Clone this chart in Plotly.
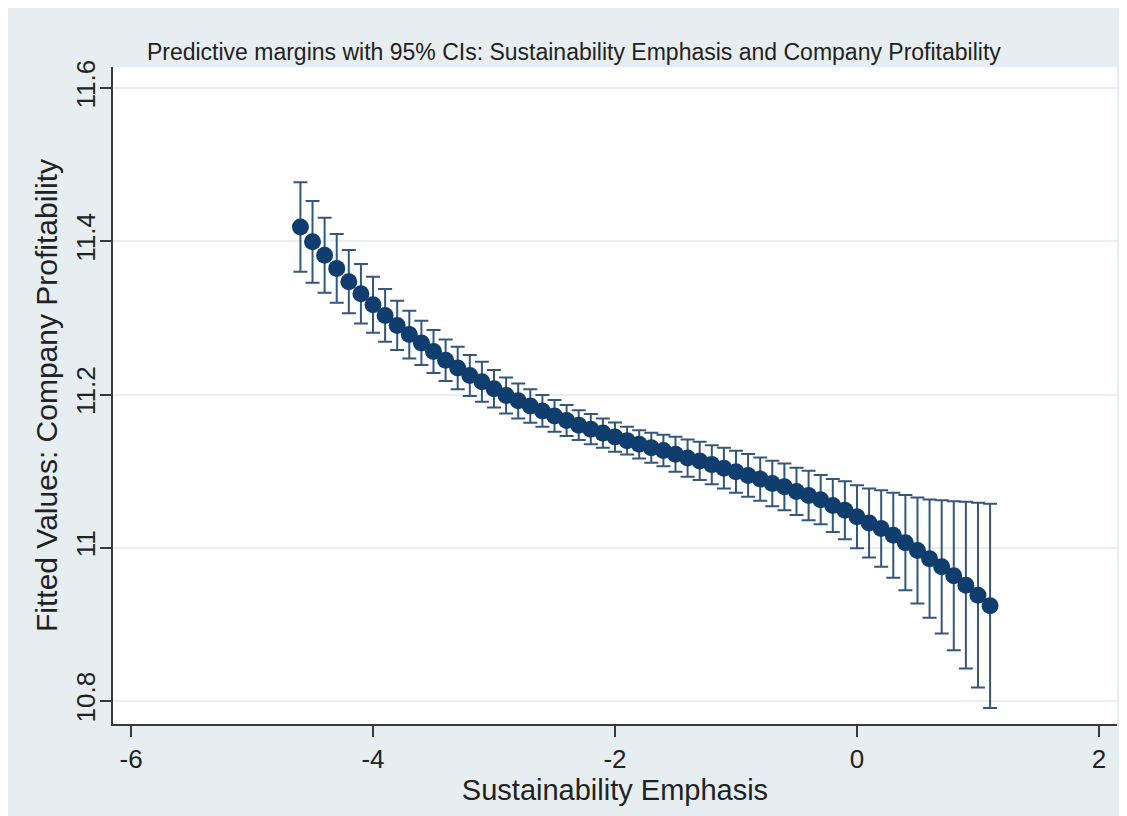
import plotly.graph_objects as go

# Sustainability Emphasis values at which margins were computed
x_vals = [round(-4.6 + 0.1 * i, 1) for i in range(58)]

# Predictive margins (fitted Company Profitability)
margin = [11.4185, 11.3992, 11.3817, 11.3646, 11.3472, 11.3315, 11.3171, 11.3032,
          11.2902, 11.2782, 11.2673, 11.2560, 11.2447, 11.2347, 11.2247, 11.2166,
          11.2076, 11.1988, 11.1917, 11.1849, 11.1785, 11.1720, 11.1660, 11.1600,
          11.1548, 11.1496, 11.1444, 11.1398, 11.1350, 11.1304, 11.1270, 11.1220,
          11.1170, 11.1133, 11.1085, 11.1039, 11.0991, 11.0944, 11.0896, 11.0839,
          11.0796, 11.0735, 11.0682, 11.0628, 11.0551, 11.0490, 11.0406, 11.0323,
          11.0251, 11.0162, 11.0066, 10.9965, 10.9858, 10.9751, 10.9636, 10.9512,
          10.9381, 10.9242]

# 95% CI upper bounds
ci_upper = [11.4769, 11.4525, 11.4307, 11.4094, 11.3885, 11.3702, 11.3537, 11.3376,
            11.3223, 11.3093, 11.2962, 11.2841, 11.2719, 11.2623, 11.2514, 11.2427,
            11.2319, 11.2223, 11.2145, 11.2067, 11.1992, 11.1927, 11.1862, 11.1796,
            11.1744, 11.1688, 11.1636, 11.1578, 11.1535, 11.1500, 11.1476, 11.1448,
            11.1414, 11.1383, 11.1339, 11.1304, 11.1265, 11.1222, 11.1179, 11.1134,
            11.1101, 11.1043, 11.1004, 11.0948, 11.0896, 11.0869, 11.0817, 11.0774,
            11.0752, 11.0717, 11.0687, 11.0657, 11.0631, 11.0621, 11.0608, 11.0599,
            11.0586, 11.0573]

# 95% CI lower bounds
ci_lower = [11.3602, 11.3458, 11.3328, 11.3197, 11.3059, 11.2928, 11.2805, 11.2688,
            11.2580, 11.2471, 11.2384, 11.2279, 11.2175, 11.2070, 11.1979, 11.1905,
            11.1832, 11.1753, 11.1688, 11.1631, 11.1578, 11.1513, 11.1457, 11.1405,
            11.1352, 11.1304, 11.1252, 11.1218, 11.1166, 11.1108, 11.1065, 11.0991,
            11.0926, 11.0883, 11.0830, 11.0774, 11.0717, 11.0665, 11.0612, 11.0543,
            11.0491, 11.0426, 11.0360, 11.0308, 11.0207, 11.0112, 10.9995, 10.9873,
            10.9751, 10.9607, 10.9446, 10.9273, 10.9085, 10.8881, 10.8663, 10.8424,
            10.8176, 10.7910]

x_ticks = [-6, -4, -2, 0, 2]
y_ticks = [10.8, 11.0, 11.2, 11.4, 11.6]
y_tick_text = ["10.8", "11", "11.2", "11.4", "11.6"]

err_plus = [u - m for u, m in zip(ci_upper, margin)]
err_minus = [m - l for m, l in zip(margin, ci_lower)]

FONT = "Liberation Sans, Arial, Helvetica, sans-serif"
NAVY = "#0f3d6e"
CI_COL = "#34577c"
BG = "#e7eef1"
GRID = "#e9eff2"
AXIS = "#3a3a3a"
TXT = "#222222"

fig = go.Figure()

fig.add_trace(go.Scatter(
    x=x_vals, y=margin, mode="markers",
    marker=dict(size=17, color=NAVY, line=dict(width=0)),
    error_y=dict(type="data", symmetric=False, array=err_plus, arrayminus=err_minus,
                 color=CI_COL, thickness=2, width=7),
    showlegend=False,
))

fig.update_layout(
    width=1127, height=816,
    margin=dict(l=105, r=18, t=59, b=100),
    paper_bgcolor=BG, plot_bgcolor="white",
    font=dict(family=FONT, color=TXT),
    title=dict(text="Predictive margins with 95% CIs: Sustainability Emphasis and Company Profitability",
               x=0.459, xref="paper", xanchor="center", y=1 - 44 / 816, yref="container", yanchor="middle",
               font=dict(size=23, family=FONT, color=TXT)),
    xaxis=dict(range=[-6.149, 2.149], tickvals=x_ticks, ticktext=[str(t) for t in x_ticks],
               showgrid=False, zeroline=False, showline=True, linecolor=AXIS, linewidth=1.5,
               ticks="outside", ticklen=11, tickwidth=1.5, tickcolor=AXIS,
               tickfont=dict(size=26, family=FONT, color=TXT),
               title=dict(text="Sustainability Emphasis", font=dict(size=29, family=FONT, color=TXT),
                          standoff=2)),
    yaxis=dict(range=[10.77, 11.6274], tickvals=y_ticks, ticktext=y_tick_text, tickangle=-90,
               showgrid=True, gridcolor=GRID, gridwidth=2, zeroline=False,
               showline=True, linecolor=AXIS, linewidth=1.5,
               ticks="outside", ticklen=11, tickwidth=1.5, tickcolor=AXIS,
               ticklabelstandoff=-5,
               tickfont=dict(size=26, family=FONT, color=TXT),
               title=dict(text="Fitted Values: Company Profitability",
                          font=dict(size=30, family=FONT, color=TXT), standoff=4)),
)

fig.write_html("out.html")
